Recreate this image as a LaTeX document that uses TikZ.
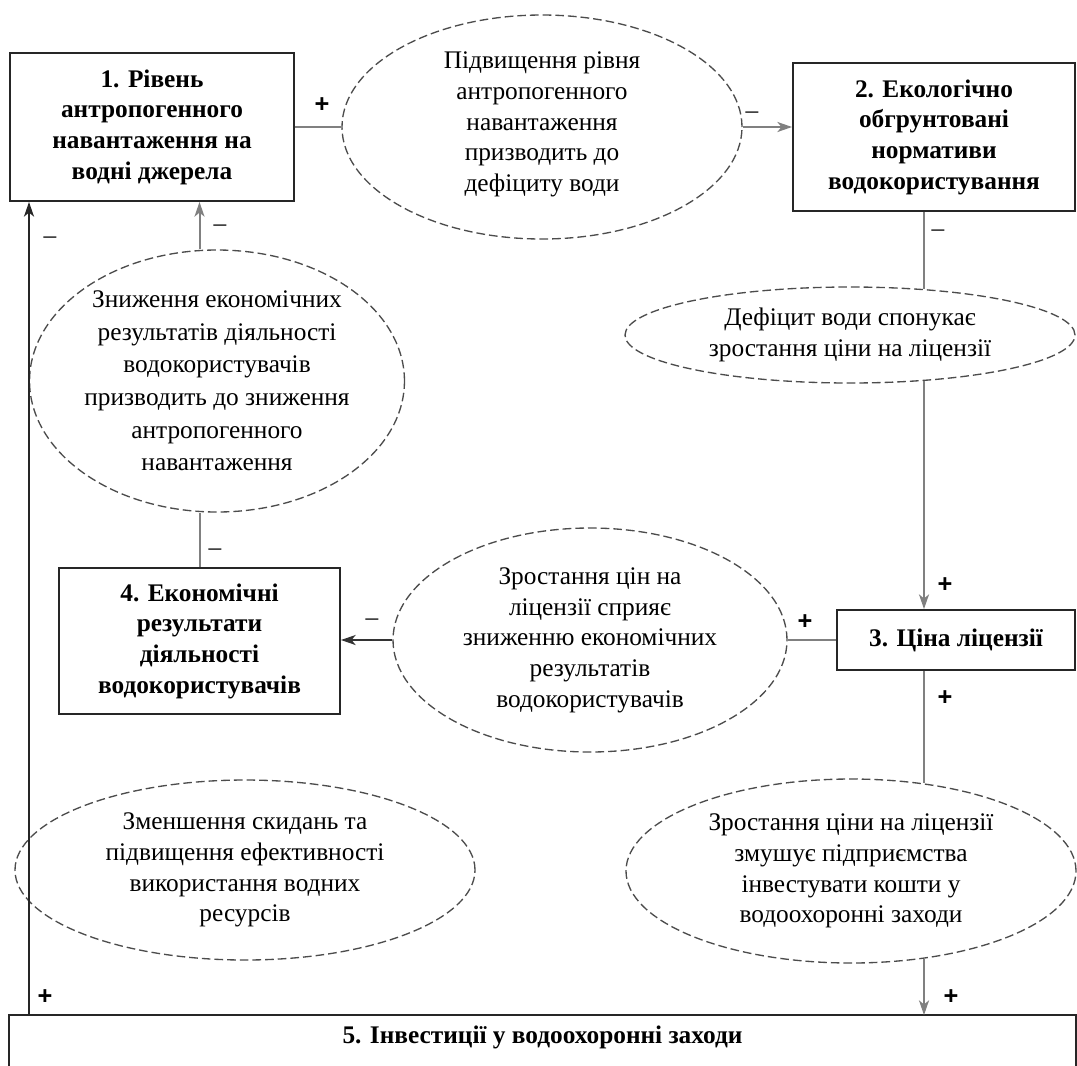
\documentclass[tikz,border=0pt]{standalone}
\usepackage{fontspec}
\setmainfont{Liberation Serif}
\newfontfamily\signfont{Liberation Sans}
\usetikzlibrary{shapes.geometric,arrows.meta,calc}
\begin{document}
\begin{tikzpicture}[x=0.75pt,y=-0.75pt,
  box/.style={draw=black!85, line width=1.4pt, align=center, font=\bfseries\fontsize{19}{23}\selectfont, inner sep=0pt},
  oval/.style={ellipse, draw=black!70, dash pattern=on 6.5pt off 3pt, line width=1pt, align=center, font=\fontsize{19}{23}\selectfont, inner sep=0pt},
  conn/.style={draw=black!50, line width=1.5pt},
  arr/.style={conn, -{Stealth[length=11pt,width=7.5pt,inset=3pt]}},
  sgn/.style={font=\signfont\bfseries\fontsize{19}{19}\selectfont, inner sep=0pt},
  neg/.style={font=\fontsize{19}{19}\selectfont, inner sep=0pt}]
\useasboundingbox (0,0) rectangle (1077,1065);
\clip (0,0) rectangle (1077,1065);

% boxes
\node[box, minimum width=213pt, minimum height=111pt] (b1) at (152,127)
  {1. Рівень\\антропогенного\\навантаження на\\водні джерела};
\node[box, minimum width=211.5pt, minimum height=111pt] (b2) at (934,137)
  {2. Екологічно\\обгрунтовані\\нормативи\\водокористування};
\node[box, minimum width=178.5pt, minimum height=45pt] (b3) at (956,640)
  {3. Ціна ліцензії};
\node[box, minimum width=210.75pt, minimum height=109.5pt] (b4) at (199.5,641)
  {4. Економічні\\результати\\діяльності\\водокористувачів};
\node[box, draw=none, minimum width=798.75pt, minimum height=31.5pt] (b5) at (542.5,1037)
  {5. Інвестиції у водоохоронні заходи};
\draw[black!85, line width=1.4pt] ([yshift=-30pt]b5.south west) |- (b5.north east) -- ([yshift=-30pt]b5.south east);

% ellipses
\node[oval, minimum width=300pt, minimum height=168pt] (e1) at (542,127)
  {\\[-14pt]Підвищення рівня\\антропогенного\\навантаження\\призводить до\\дефіциту води};
\node[oval, minimum width=337.5pt, minimum height=72pt] (e2) at (850,335)
  {Дефіцит води спонукає\\зростання ціни на ліцензії};
\node[oval, minimum width=295.5pt, minimum height=168pt] (e3) at (590,640)
  {Зростання цін на\\ліцензії сприяє\\зниженню економічних\\результатів\\водокористувачів};
\node[oval, minimum width=252pt, minimum height=196.5pt, font=\fontsize{19}{24.5}\selectfont] (e4) at (217,381)
  {Зниження економічних\\результатів діяльності\\водокористувачів\\призводить до зниження\\антропогенного\\навантаження};
\node[oval, minimum width=345pt, minimum height=135pt] (e5) at (245,870)
  {Зменшення скидань та\\підвищення ефективності\\використання водних\\ресурсів};
\node[oval, minimum width=337.5pt, minimum height=138pt] (e6) at (851,871)
  {Зростання ціни на ліцензії\\змушує підприємства\\інвестувати кошти у\\водоохоронні заходи};

% connectors
\coordinate (cx) at (924,0);
\coordinate (lx) at (29,0);
\draw[conn] (b1.east) -- (e1.west);
\draw[arr] (e1.east) -- (e1.east -| b2.west);
\draw[conn] (b2.south -| cx) -- (cx |- e2.31.5);
\draw[arr] (cx |- e2.-31.5) -- (b3.north -| cx);
\draw[conn] (b3.west) -- (e3.east);
\draw[arr, draw=black!80] (e3.west) -- (e3.west -| b4.east);
\draw[conn] (b4.north) -- (b4.north |- e4.south);
\draw[arr] (b4.north |- e4.north) -- (b4.north |- b1.south);
\draw[conn] (b3.south -| cx) -- (cx |- e6.50);
\draw[arr] (cx |- e6.-50) -- (b5.north -| cx);
\draw[arr, draw=black!85] (lx |- b5.north) -- (lx |- b1.south);

% signs
\node[sgn] (s1) at (322,105) {+};
\node[neg] (s2) at (752,115) {–};
\node[neg] (s3) at (938,233) {–};
\node[sgn] (s4) at (945,585) {+};
\node[sgn] (s5) at (805,622) {+};
\node[neg] (s6) at (372,622) {–};
\node[neg] (s7) at (215,552) {–};
\node[neg] (s8) at (220,228) {–};
\node[neg] (s9) at (50,240) {–};
\node[sgn] (s10) at (45,997) {+};
\node[sgn] (s11) at (945,698) {+};
\node[sgn] (s12) at (951,997) {+};
\end{tikzpicture}
\end{document}
